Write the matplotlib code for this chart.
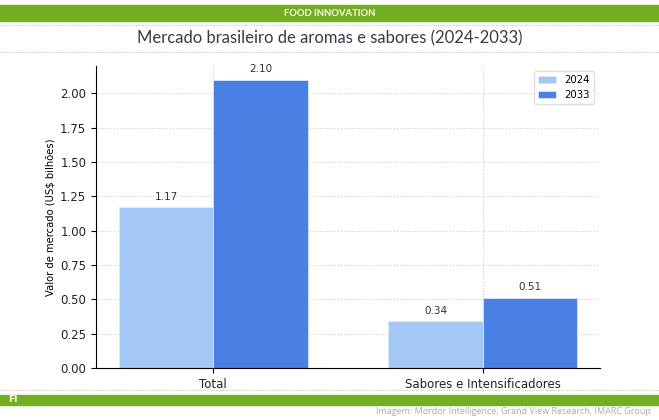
import numpy as np
import matplotlib
matplotlib.use("Agg")
import matplotlib.pyplot as plt
from matplotlib.lines import Line2D
from matplotlib.patches import Rectangle

# data
categories = ["Total", "Sabores e Intensificadores"]
years = ["2024", "2033"]
values_2024 = [1.17, 0.34]
values_2033 = [2.10, 0.51]

green = "#72ae1f"
light_blue = "#a3c8f6"
dark_blue = "#4a7fe3"

fig = plt.figure(figsize=(6.59, 4.2), dpi=100)

# top banner and frame lines (page decoration)
fig.patches.append(Rectangle((0, 1 - 20.5 / 420), 1, 15.5 / 420, transform=fig.transFigure,
                             color=green, zorder=0))
fig.text(0.5, 1 - 13 / 420, "FOOD INNOVATION", ha="center", va="center",
         color="white", fontsize=6.8, fontweight="bold", family="Lato")
for yy in (25, 52, 390):
    fig.lines.append(Line2D([0, 1], [1 - yy / 420] * 2, transform=fig.transFigure,
                            color="#c8c8c8", lw=0.8, ls=(0, (1, 1))))
fig.text(0.5, 1 - 38.5 / 420, "Mercado brasileiro de aromas e sabores (2024-2033)",
         ha="center", va="center", color="#3a3a48", fontsize=12, family="Lato")

# bottom banner
fig.patches.append(Rectangle((0, 1 - 405 / 420), 1, 10 / 420, transform=fig.transFigure,
                             color=green, zorder=0))
fig.text(8 / 659, 1 - 400 / 420, "FI", ha="left", va="center", color="white",
         fontsize=6.5, fontweight="bold")
fig.text(651 / 659, 1 - 411 / 420,
         "Imagem: Mordor Intelligence, Grand View Research, IMARC Group",
         ha="right", va="center", color="#aaaaaa", fontsize=6.5, family="Open Sans")

# chart
ax = fig.add_axes([96 / 659, 1 - 368 / 420, (600 - 96) / 659, (368 - 66) / 420])
x = np.arange(len(categories))
w = 0.35
b1 = ax.bar(x - w / 2, values_2024, w, color=light_blue, edgecolor="#dce9fb",
            linewidth=0.6, label=years[0])
b2 = ax.bar(x + w / 2, values_2033, w, color=dark_blue, edgecolor="#dce9fb",
            linewidth=0.6, label=years[1])
for bars in (b1, b2):
    for r in bars:
        ax.text(r.get_x() + r.get_width() / 2, r.get_height() + 0.04,
                f"{r.get_height():.2f}", ha="center", va="bottom",
                fontsize=7.5, color="#333333")

ax.set_ylim(0, 2.2)
ax.set_yticks(np.arange(0, 2.01, 0.25))
ax.set_xticks(x)
ax.set_xticklabels(categories, fontsize=8.5, color="#222222")
ax.tick_params(axis="y", labelsize=8.5, labelcolor="#222222")
ax.set_ylabel("Valor de mercado (US$ bilhões)", fontsize=7.2, labelpad=3)
ax.grid(True, linestyle=":", color="#cccccc", linewidth=0.8)
ax.set_axisbelow(True)
for s in ("top", "right"):
    ax.spines[s].set_visible(False)
ax.legend(loc="upper right", fontsize=7.3, framealpha=1, edgecolor="#dddddd",
          handlelength=1.8, bbox_to_anchor=(0.998, 1.0))

fig.savefig("out.png", dpi=100)
